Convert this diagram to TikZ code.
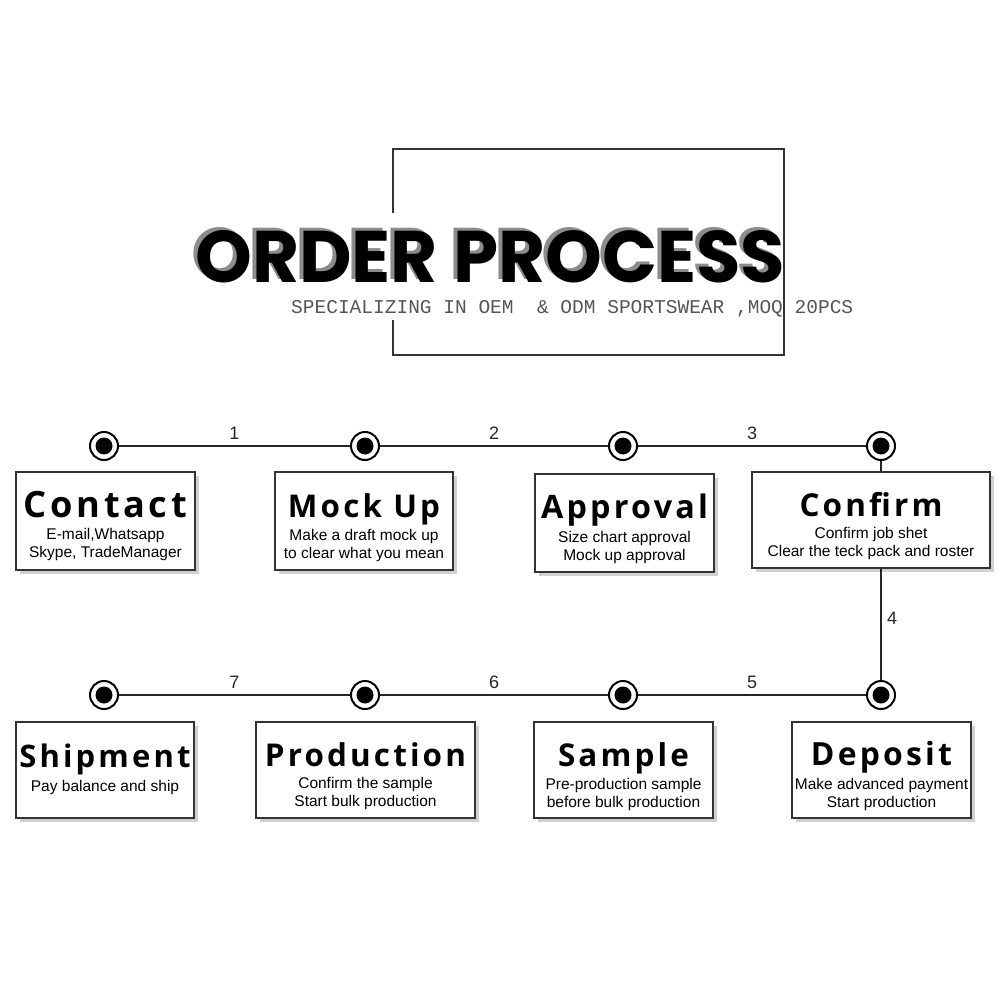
\documentclass[tikz,border=0pt]{standalone}
\usepackage{fontspec}
\usepackage{graphicx}
\setmainfont{Liberation Sans}
\newfontfamily\headfont{Poppins}
\newfontfamily\subfont{Liberation Mono}
\newfontfamily\stepfont{Open Sans}[LetterSpace=10]
\usetikzlibrary{positioning, shadows, calc}
\definecolor{FrameGrey}{RGB}{51,51,51}
\definecolor{ShadowGrey}{RGB}{140,140,140}
\definecolor{SubGrey}{RGB}{85,85,85}
\newcommand{\steptitle}[2]{\rule{0pt}{37pt}\resizebox{#1}{!}{\stepfont\bfseries #2}}

\begin{document}
\begin{tikzpicture}[x=1pt, y=-1pt,
    marker/.style={circle, draw=black, line width=2pt, fill=white, minimum size=28pt, inner sep=0pt,
        path picture={\fill[black] (path picture bounding box.center) circle (8.5pt);}},
    link/.style={line width=2.2pt, black!85},
    stepno/.style={font=\fontsize{18}{18}\selectfont, text=black!85, inner sep=5pt},
    stepbox/.style={draw=FrameGrey, line width=1.5pt, fill=white, align=center, inner sep=0pt,
        font=\fontsize{15.5}{18}\selectfont,
        drop shadow={shadow xshift=4pt, shadow yshift=-4pt, fill=black, opacity=0.18}}]
    \useasboundingbox (0,0) rectangle (1000,1000);

    % title frame, open where the heading crosses it
    \draw[FrameGrey, line width=2.2pt] (393,213) -- (393,149) -- (784,149) -- (784,355) -- (393,355) -- (393,320);
    \node[anchor=base west, inner sep=0pt, text=ShadowGrey] (title-shadow) at (191,279)
        {\resizebox{590pt}{52pt}{\headfont\bfseries ORDER PROCESS}};
    \node[anchor=base west, inner sep=0pt] (title) at (195,282)
        {\resizebox{590pt}{52pt}{\headfont\bfseries ORDER PROCESS}};
    \node[anchor=base west, inner sep=0pt, text=SubGrey] (subtitle) at (291,313)
        {\resizebox{562pt}{!}{\subfont SPECIALIZING IN OEM~~\& ODM SPORTSWEAR ,MOQ 20PCS}};

    % markers
    \node[marker] (m1) at (104,446) {};
    \node[marker] (m2) at (365,446) {};
    \node[marker] (m3) at (623,446) {};
    \node[marker] (m4) at (881,446) {};
    \node[marker] (m5) at (881,695) {};
    \node[marker] (m6) at (623,695) {};
    \node[marker] (m7) at (365,695) {};
    \node[marker] (m8) at (104,695) {};

    \draw[link] (m1) -- node[stepno, above] {1} (m2)
                     -- node[stepno, above] {2} (m3)
                     -- node[stepno, above] {3} (m4)
                     -- node[stepno, right, pos=0.72] {4} (m5)
                     -- node[stepno, above] {5} (m6)
                     -- node[stepno, above] {6} (m7)
                     -- node[stepno, above] {7} (m8);

    % steps
    \node[stepbox, minimum width=179pt, minimum height=98pt] (contact) at (105.5,521)
        {\steptitle{163pt}{Contact}\\[4pt]E-mail,Whatsapp\\Skype, TradeManager};
    \node[stepbox, minimum width=178pt, minimum height=98pt] (mockup) at (364,521)
        {\steptitle{152pt}{Mock Up}\\[4pt]Make a draft mock up\\to clear what you mean};
    \node[stepbox, minimum width=179pt, minimum height=98pt] (approval) at (624.5,523)
        {\steptitle{167pt}{Approval}\\[4pt]Size chart approval\\Mock up approval};
    \node[stepbox, minimum width=238pt, minimum height=96pt] (confirm) at (871,520)
        {\steptitle{143pt}{Confirm}\\[4pt]Confirm job shet\\Clear the teck pack and roster};
    \node[stepbox, minimum width=179pt, minimum height=96pt] (deposit) at (881.5,770)
        {\steptitle{141pt}{Deposit}\\[4pt]Make advanced payment\\Start production};
    \node[stepbox, minimum width=179pt, minimum height=96pt] (sample) at (623.5,770)
        {\steptitle{131pt}{Sample}\\[4pt]Pre-production sample\\before bulk production};
    \node[stepbox, minimum width=219pt, minimum height=96pt] (production) at (365.5,770)
        {\steptitle{201pt}{Production}\\[4pt]Confirm the sample\\Start bulk production};
    \node[stepbox, minimum width=178pt, minimum height=96pt] (shipment) at (105,770)
        {\steptitle{171pt}{Shipment}\\[4pt]Pay balance and ship\\\mbox{}};
\end{tikzpicture}
\end{document}
